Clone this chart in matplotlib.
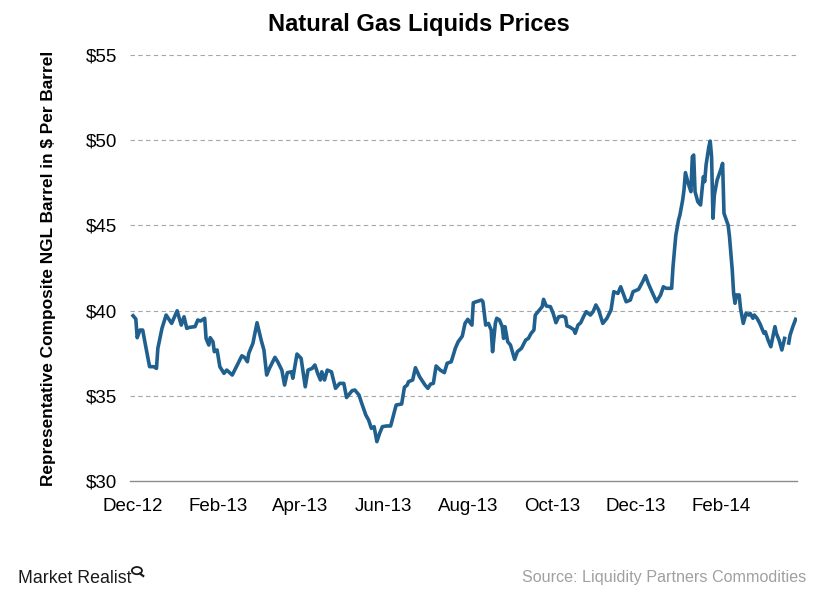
import matplotlib
matplotlib.use("Agg")
import matplotlib.pyplot as plt
import matplotlib.dates as mdates
import numpy as np
import pandas as pd
from matplotlib.patches import Circle
from matplotlib.lines import Line2D

START = pd.Timestamp("2012-12-01")

# days after 1 Dec 2012 and the price ($ per barrel)
days = [
    0, 2, 3, 5, 7, 9, 12, 15, 17, 18, 21, 24, 28, 32, 35, 37, 39, 41, 45, 47,
    49, 52, 53, 55, 56, 58, 59, 61, 63, 66, 68, 72, 75, 79, 81, 83, 84, 86, 87, 90,
    93, 95, 97, 99, 103, 105, 108, 110, 112, 115, 116, 119, 122, 125, 127, 130, 132, 134, 136, 137,
    139, 141, 144, 147, 150, 153, 155, 159, 161, 164, 166, 169, 171, 173, 175, 177, 179, 181, 184, 187,
    190, 191, 195, 197, 199, 200, 203, 205, 208, 212, 214, 216, 218, 220, 223, 226, 228, 231, 234, 236,
    239, 241, 243, 245, 246, 247, 249, 253, 254, 256, 258, 260, 261, 263, 264, 266, 268, 269, 270, 272,
    274, 275, 277, 279, 282, 285, 287, 289, 291, 292, 294, 297, 298, 300, 303, 305, 307, 309, 312, 314,
    315, 317, 320, 321, 323, 325, 327, 329, 332, 334, 336, 338, 341, 344, 347, 349, 352, 354, 356, 358,
    361, 363, 367, 370, 372, 374, 377, 380, 383, 385, 387, 391, 392, 394, 396, 397, 399, 400, 401, 403,
    405, 406, 407, 408, 410, 412, 414, 415, 416, 418, 419, 420, 421, 422, 424, 427, 428, 429, 432, 433,
    435, 436, 437, 438, 440, 441, 443, 445, 447, 448, 450, 451, 453, 455, 457, 458, 459, 461, 463, 466,
    467, 469, 471, 473, 474, 476, 477, 479, 481,
]
price = [
    39.70, 39.51, 38.41, 38.86, 38.86, 37.98, 36.71, 36.71, 36.61, 37.79, 38.96, 39.74, 39.25, 39.99, 39.15, 39.64, 38.96, 39.02, 39.06, 39.45,
    39.39, 39.55, 38.37, 37.98, 38.41, 38.17, 37.59, 37.69, 36.71, 36.32, 36.51, 36.22, 36.71, 37.35, 37.25, 37.00, 37.49, 37.88, 38.08, 39.29,
    38.27, 37.69, 36.22, 36.61, 37.26, 37.00, 36.51, 35.63, 36.36, 36.41, 36.03, 37.45, 37.20, 35.53, 36.51, 36.61, 36.81, 36.32, 35.93, 36.41,
    35.93, 36.51, 36.41, 35.44, 35.73, 35.73, 34.90, 35.30, 35.34, 35.05, 34.56, 33.87, 33.58, 33.09, 33.19, 32.31, 32.80, 33.19, 33.23, 33.23,
    34.17, 34.46, 34.52, 35.50, 35.63, 35.83, 35.93, 36.65, 36.12, 35.63, 35.44, 35.69, 35.73, 36.75, 36.51, 36.36, 36.91, 37.00, 37.80, 38.17,
    38.50, 39.25, 39.49, 39.25, 39.15, 40.46, 40.52, 40.62, 40.52, 39.15, 39.25, 38.86, 37.59, 39.25, 39.55, 39.45, 39.06, 38.37, 39.06, 38.17,
    37.98, 37.69, 37.14, 37.59, 37.79, 38.27, 38.37, 38.67, 38.86, 39.74, 39.94, 40.23, 40.66, 40.27, 40.23, 39.84, 39.29, 39.64, 39.68, 39.60,
    39.10, 39.04, 38.88, 38.67, 39.15, 39.29, 39.64, 39.94, 39.74, 39.94, 40.33, 40.04, 39.25, 39.55, 40.04, 41.11, 41.01, 41.40, 40.97, 40.52,
    40.62, 41.11, 41.25, 41.70, 42.05, 41.60, 41.05, 40.52, 40.92, 41.40, 41.31, 41.31, 42.58, 44.40, 45.32, 45.61, 46.49, 47.10, 48.10, 47.47,
    46.98, 49.03, 49.13, 46.98, 46.39, 46.20, 47.86, 47.57, 48.55, 49.62, 49.95, 49.03, 45.42, 46.78, 47.66, 48.35, 48.64, 45.71, 45.02, 44.34,
    42.38, 41.01, 40.43, 40.92, 40.92, 40.13, 39.25, 39.84, 39.74, 39.84, 39.55, 39.74, 39.55, 39.25, 38.86, 38.67, 38.76, 38.27, 37.88, 39.06,
    38.67, 38.27, 37.69, 38.37, np.nan, 38.10, 38.57, 39.06, 39.49,
]

tick_dates = ["2012-12-01", "2013-02-01", "2013-04-01", "2013-06-01",
              "2013-08-01", "2013-10-01", "2013-12-01", "2014-02-01"]
y_ticks = [30, 35, 40, 45, 50, 55]

LINE = "#20608e"
GRID = "#a6a6a6"
AXIS = "#8c8c8c"
TEXT = "#000000"
SOURCE = "#a0a0a0"

plt.rcParams["font.family"] = ["Liberation Sans", "DejaVu Sans"]

dates = START + pd.to_timedelta(days, unit="D")

fig = plt.figure(figsize=(8.4, 6.0), dpi=100, facecolor="white")
ax = fig.add_axes([0.1548, 0.1983, 0.794, 0.71])

ax.plot(dates, price, color=LINE, linewidth=2.6, solid_joinstyle="round")

ax.set_ylim(30, 55)
ax.set_yticks(y_ticks)
ax.set_yticklabels([f"${v}" for v in y_ticks])
ax.set_xlim(START - pd.Timedelta(days=2.2), START + pd.Timedelta(days=482))
ax.set_xticks(pd.to_datetime(tick_dates))
ax.xaxis.set_major_formatter(mdates.DateFormatter("%b-%y"))

for s in ("top", "right", "left"):
    ax.spines[s].set_visible(False)
ax.spines["bottom"].set_color(AXIS)
ax.spines["bottom"].set_linewidth(1.0)
ax.tick_params(axis="both", length=0, labelsize=13.5, colors=TEXT)
ax.tick_params(axis="y", pad=9.5)
ax.tick_params(axis="x", pad=12)

for v in y_ticks[1:]:
    ax.axhline(v, color=GRID, linewidth=0.8, linestyle=(0, (4, 3)), zorder=0)

ax.set_ylabel("Representative Composite NGL Barrel in $ Per Barrel",
              fontsize=12.4, fontweight="bold", color=TEXT, labelpad=21)

fig.text(0.499, 0.96, "Natural Gas Liquids Prices", ha="center", va="center",
         fontsize=17, fontweight="bold", color=TEXT)

# footer
fig.text(0.021, 0.036, "Market Realist", ha="left", va="center", fontsize=12.8,
         color="#1a1a1a")
fig.patches.append(Circle((0.1630, 0.0490), 0.0060, transform=fig.transFigure,
                          fill=False, edgecolor="#1a1a1a", linewidth=1.3))
fig.lines.append(Line2D([0.1667, 0.1705], [0.0440, 0.0400],
                        transform=fig.transFigure, color="#1a1a1a", linewidth=1.6))
fig.text(0.96, 0.038, "Source: Liquidity Partners Commodities", ha="right",
         va="center", fontsize=11.6, color=SOURCE)

fig.savefig("out.png", dpi=100, facecolor="white")
